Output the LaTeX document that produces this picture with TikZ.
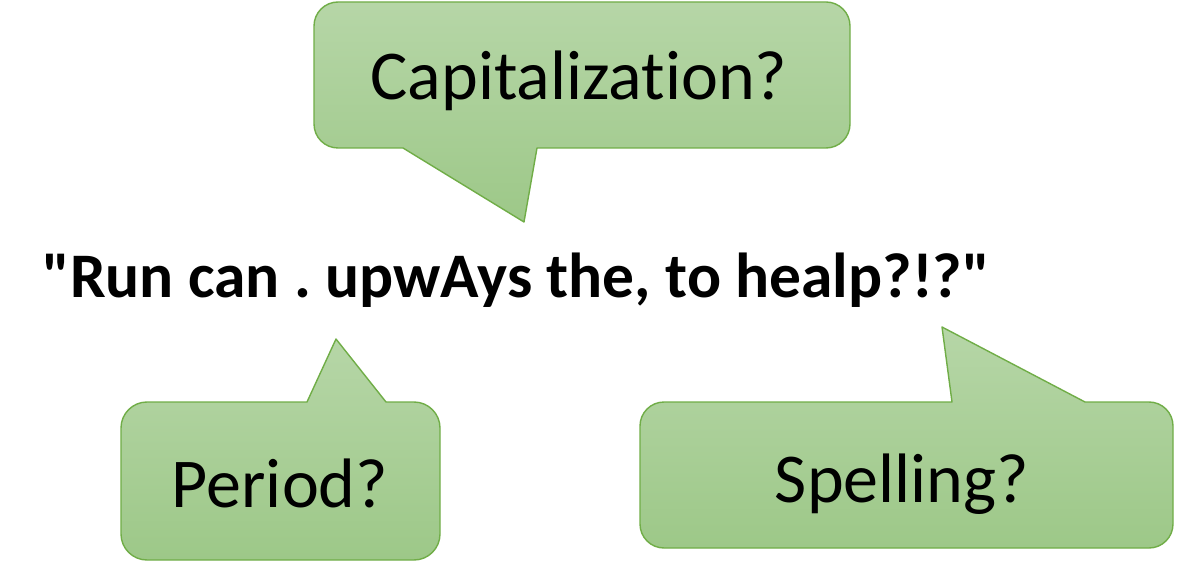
\documentclass[tikz,border=0pt]{standalone}
\usepackage{fontspec}
\setmainfont{Carlito}[Ligatures={TeXOff,NoCommon}]
\frenchspacing
\definecolor{bubtop}{RGB}{182,214,167}
\definecolor{bubbot}{RGB}{157,200,136}
\definecolor{bubedge}{RGB}{112,173,71}
\tikzset{
  bubble/.style={top color=bubtop, bottom color=bubbot, draw=bubedge, line width=1.4pt, line join=round},
  bubtext/.style={anchor=base, inner sep=0pt, font=\fontsize{70}{80}\selectfont},
  maintext/.style={anchor=base, inner sep=0pt, font=\fontsize{63.5}{72}\selectfont\bfseries}
}
\begin{document}
\begin{tikzpicture}[x=1pt,y=1pt]
\useasboundingbox (0,0) rectangle (1183,571);
% Capitalization callout (tail pointing down)
\path[bubble] (403,423) -- (524,349) -- (537,423) -- (826,423)
  arc[start angle=-90,end angle=0,radius=24] -- (850,545)
  arc[start angle=0,end angle=90,radius=24] -- (338,569)
  arc[start angle=90,end angle=180,radius=24] -- (314,447)
  arc[start angle=180,end angle=270,radius=24] -- cycle;
% Period callout (tail pointing up)
\path[bubble] (386,169) -- (414,169)
  arc[start angle=90,end angle=0,radius=26] -- (440,37)
  arc[start angle=0,end angle=-90,radius=26] -- (147,11)
  arc[start angle=-90,end angle=-180,radius=26] -- (121,143)
  arc[start angle=180,end angle=90,radius=26] -- (307,169) -- (336,232) -- cycle;
% Spelling callout (tail pointing up)
\path[bubble] (1085,169) -- (1149,169)
  arc[start angle=90,end angle=0,radius=24] -- (1173,47)
  arc[start angle=0,end angle=-90,radius=24] -- (664,23)
  arc[start angle=-90,end angle=-180,radius=24] -- (640,145)
  arc[start angle=180,end angle=90,radius=24] -- (952,169) -- (942,244) -- cycle;
% texts
\node[bubtext] (cap) at (579,471) {Capitalization?};
\node[bubtext] (per) at (280,64) {Period?};
\node[bubtext] (spe) at (902,69) {Spelling?};
\node[maintext] (sent) at (516,273) {"Run can . upwAys the, to healp?!?"};
\end{tikzpicture}
\end{document}
